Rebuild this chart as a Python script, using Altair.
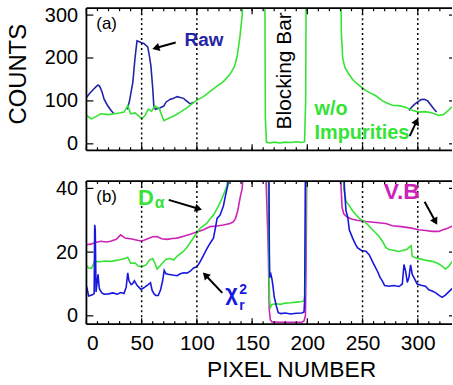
import altair as alt
import pandas as pd

# ---------------- data ----------------
# Panel (a): counts vs pixel number
A_GREEN_X = [0, 4.5, 9, 13, 20, 25, 30, 34, 37.5, 40, 44, 47, 50, 53, 56, 59, 62, 66, 70, 75, 80, 85, 90, 95,
             100, 106, 112, 118, 124, 130, 134, 136.5, 139, 141, 143, 161.5, 162, 163, 166, 170, 175, 180, 185,
             190, 195, 197.5, 198.5, 199, 230.3, 230.8, 232, 234, 237, 241, 245, 251.5, 256, 262, 268, 272,
             277, 283, 289, 295, 301, 307, 313, 319, 323, 327, 330, 334]
A_GREEN_Y = [66, 58, 64, 70, 68, 70, 72, 74, 89, 70, 72, 66, 58, 66, 81, 76, 88, 82, 54, 60, 66, 74, 82, 92,
             102, 110, 122, 134, 145, 162, 180, 204, 250, 300, 400, 400, 60, 4, 2, 4, 2, 4, 3,
             5, 3, 5, 100, 400, 400, 260, 200, 178, 165, 150, 140, 127, 120, 112, 100, 95,
             90, 89, 85, 78, 74, 75, 72, 66, 68, 76, 84, 90]

RAW1_X = [0, 3, 6, 9, 10.5, 12, 14, 16, 19, 22.5, 25]
RAW1_Y = [108, 118, 126, 134, 137, 134, 122, 104, 90, 77, 70]
RAW2_X = [37, 39, 42, 44, 45.8, 48, 49.4, 52, 55.5, 57, 58.4, 60, 61, 62.5, 64, 67, 70, 72, 76, 79, 82, 85,
          88, 90, 94, 97]
RAW2_Y = [80, 100, 143, 200, 240, 238, 236, 234, 226, 205, 181, 130, 89, 80, 82, 84, 88, 97, 104, 106, 110,
          108, 106, 101, 93, 97]
RAW3_X = [292, 294, 297, 300, 303, 306, 309, 312, 315, 317]
RAW3_Y = [78, 84, 92, 98, 103, 104, 100, 90, 80, 74]

# Panel (b)
VB_X = [0, 4, 8, 13, 18, 22, 27, 31, 35, 40, 45, 49, 52, 56, 60, 64, 68, 73, 78, 82, 88, 94, 100, 106, 112,
        118, 124, 130, 133, 135, 137, 139, 141, 143, 162, 164.7, 165.5, 166.5, 168, 175, 185, 195, 197,
        198.3, 199, 199.5, 230, 230.6, 231.5, 233, 236, 240, 245, 253, 260, 271, 277, 285, 293, 301, 307,
        313, 319, 323, 327, 330, 334]
VB_Y = [22.3, 22.5, 23, 23.4, 23.2, 23.4, 24, 25.4, 24.4, 24.2, 23.8, 23.5, 23.7, 24.3, 24.8, 24.9, 24.2, 24,
        24.3, 24.4, 25, 25.6, 26.3, 27, 28, 28.2, 28.5, 29, 29.5, 30.6, 33, 36.8, 40, 50, 50, 20, 2, -1.2,
        -1.9, -2, -2, -2, -1.6, 0, 20, 50, 50, 40, 34, 32, 31, 30.4, 30, 29.6, 29.4, 29, 28.3, 28, 27.6, 27,
        26.8, 26.5, 26.5, 27, 27.5, 28, 28.5]

DA_X = [0, 2, 4.5, 7.5, 12, 17, 22.5, 27, 30, 35, 37.4, 40, 44, 47, 50, 54, 57, 60, 62, 64, 67, 72, 76, 79,
        82, 85, 88, 91, 94, 97, 100, 103, 106, 109, 112, 115, 118, 121, 124, 127, 129, 164, 164.7, 165,
        165.8, 166.5, 168, 172, 176, 180, 185, 190, 195, 197, 198, 198.6, 199, 232, 233, 235, 238, 241,
        244, 248, 251.6, 255, 259, 262, 265, 268, 271, 274, 279, 283, 287, 290, 293, 294, 295, 298, 303,
        308, 313, 318, 322, 325, 328, 331, 334]
DA_Y = [15.8, 15, 14.9, 17.1, 17, 17.2, 17.1, 17.4, 17.6, 18, 18.4, 16.5, 16.6, 15.6, 15.4, 16, 17.5, 18,
        16.5, 14.7, 15.8, 17.8, 18, 17.5, 18.7, 19.5, 20.3, 21.5, 23, 24.5, 26, 27.5, 28.3, 29, 30.5, 31.6,
        33.5, 35.5, 37.9, 40.5, 45, 45, 45, 20, 5, 2.6, 3.6, 3.8, 3.6, 4, 4.1, 4.3, 4.5, 4.8, 7, 30, 50,
        50, 40, 36, 34.6, 33, 31.7, 30.3, 29.6, 28.5, 27, 26, 24.9, 23.4, 21.5, 20.8, 20.5, 20.2, 20.6,
        20.8, 21.8, 22, 18.7, 18.2, 17.8, 17.4, 17.1, 16.5, 15.6, 14.7, 15.5, 17, 18]

CHI_X = [0, 1, 2, 5, 7, 7.5, 8, 8.7, 9.5, 10.5, 11.5, 12, 14, 16, 20, 24, 28, 31, 34, 36, 37.4, 38.5, 40.5,
         42, 43.4, 46, 49.4, 52, 54, 56, 58, 59.5, 61.4, 63, 65, 67, 69, 70.4, 72, 75, 78, 82, 85, 88, 91,
         94, 97, 100, 103, 106, 109, 112, 115, 117, 118.3, 121, 124, 126, 128, 130, 165.2, 165.6, 166, 167,
         168, 169, 170, 171, 172, 173.7, 176, 180, 185, 190, 195, 197, 197.6, 198, 198.3, 233, 233.6, 235,
         236.6, 238, 241, 244, 245.6, 249, 253, 256, 259, 262, 263.5, 266, 268, 270, 274, 278, 283, 286,
         287.5, 289, 290.5, 292, 293.5, 295, 296.5, 299.5, 303, 307, 310, 313, 316, 319, 322, 325, 328,
         331, 334]
CHI_Y = [9.3, 8, 6.2, 6.5, 7, 28.6, 27, 7.5, 10, 13, 9, 8.3, 7.2, 6.8, 6.9, 7.2, 6.8, 7.3, 7, 9, 13.5, 11,
         9.8, 10.2, 11, 9.5, 8.3, 8.8, 9.3, 9.8, 10.4, 8, 6.8, 6.4, 6.4, 8, 11, 14.3, 13.2, 13, 12.8, 12.6,
         13.2, 13.5, 13.4, 14, 15, 15.4, 17, 19, 21, 22.8, 24.4, 28, 30.6, 31.6, 34.5, 37.9, 41, 50, 50, 20,
         12, 13, 11.5, 9, 6, 4.5, 3, 1, 0.7, 0.9, 0.6, 0.8, 0.9, 1.2, 5, 30, 50, 50, 40, 33, 31, 27, 24.4,
         22.2, 21.3, 20.5, 20.3, 19.2, 17, 15, 14, 12, 10.9, 9.5, 9.3, 9.5, 9.2, 10, 16.1, 14, 10.5, 12,
         16, 13, 12, 10, 9.6, 9.3, 8.2, 7.8, 7.3, 6.5, 5.8, 6.5, 7.5, 8.5, 9]

X_LABELS = [0, 50, 100, 150, 200, 250, 300]
GRID_X = [50, 100, 250, 300]
X_MINOR = list(range(0, 330, 10))
Y1_LABELS = [0, 100, 200, 300]
Y2_LABELS = [0, 20, 40]

# ---------------- styles ----------------
GREEN = "#35e335"
BLUE_TOP = "#2424a6"
BLUE = "#1717e0"
MAGENTA = "#cc22b8"
FONT = "Liberation Sans"
W, H1, H2 = 368, 143, 144
X_DOMAIN = [0, 331]
Y1_DOMAIN = [-15, 316]
Y2_DOMAIN = [-2.6, 42.3]

xs = alt.Scale(domain=X_DOMAIN, nice=False, zero=False)
y1s = alt.Scale(domain=Y1_DOMAIN, nice=False, zero=False)
y2s = alt.Scale(domain=Y2_DOMAIN, nice=False, zero=False)

yaxis_top = alt.Axis(values=Y1_LABELS, ticks=False, domain=False, grid=False, labelFont=FONT,
                     labelFontSize=20, labelColor="black", labelPadding=9, title="COUNTS",
                     titleFont=FONT, titleFontSize=24, titleFontWeight="normal", titleColor="black",
                     titleX=-68, titleY=66, titleBaseline="middle", titleAlign="center")
yaxis_bot = alt.Axis(values=Y2_LABELS, ticks=False, domain=False, grid=False, labelFont=FONT,
                     labelFontSize=20, labelColor="black", labelPadding=9, title=None)
xaxis_bot = alt.Axis(values=X_LABELS, ticks=False, domain=False, grid=False, labelFont=FONT,
                     labelFontSize=21, labelColor="black", labelPadding=9, title="PIXEL NUMBER",
                     titleFont=FONT, titleFontSize=23, titleFontWeight="normal", titleColor="black",
                     titlePadding=5, titleX=206, titleAlign="center")


class Panel:
    def __init__(self, ys, xaxis, yaxis, H):
        self.ys, self.xa, self.ya, self.H = ys, xaxis, yaxis, H

    def X(self, f):
        return alt.X(f, type="quantitative", scale=xs, axis=self.xa)

    def Y(self, f):
        return alt.Y(f, type="quantitative", scale=self.ys, axis=self.ya)

    def line(self, df, color, width=1.6):
        return alt.Chart(df).mark_line(color=color, strokeWidth=width, clip=True).encode(
            x=self.X("x"), y=self.Y("y"), order=alt.Order("i:Q"), detail="seg:N")

    def decorations(self, yticks):
        H = self.H
        layers = [alt.Chart(pd.DataFrame({"x": GRID_X})).mark_rule(
            color="black", strokeDash=[2, 3], strokeWidth=1.5).encode(x=self.X("x"))]
        for vals, ln in ((X_LABELS, 6), (X_MINOR, 3)):
            d = pd.DataFrame({"x": vals})
            layers.append(alt.Chart(d).mark_rule(color="black", strokeWidth=1.2).encode(
                x=self.X("x"), y=alt.value(H), y2=alt.value(H - ln)))
            layers.append(alt.Chart(d).mark_rule(color="black", strokeWidth=1.2).encode(
                x=self.X("x"), y=alt.value(0), y2=alt.value(ln)))
        yt = pd.DataFrame({"y": yticks})
        layers.append(alt.Chart(yt).mark_rule(color="black", strokeWidth=1.2).encode(
            y=self.Y("y"), x=alt.value(0), x2=alt.value(7)))
        layers.append(alt.Chart(yt).mark_rule(color="black", strokeWidth=1.2).encode(
            y=self.Y("y"), x=alt.value(W - 3), x2=alt.value(W)))
        # frame: left, top, bottom (right edge lies beyond the crop in the reference)
        fr = dict(color="black", strokeWidth=1.8)
        layers.append(alt.Chart(pd.DataFrame({"k": [0]})).mark_rule(**fr).encode(
            x=alt.value(0), y=alt.value(0), y2=alt.value(H)))
        layers.append(alt.Chart(pd.DataFrame({"k": [0]})).mark_rule(**fr).encode(
            x=alt.value(0), x2=alt.value(W), y=alt.value(0)))
        layers.append(alt.Chart(pd.DataFrame({"k": [0]})).mark_rule(**fr).encode(
            x=alt.value(0), x2=alt.value(W), y=alt.value(H)))
        return layers

    def label(self, txt, x, y, size, color="black", weight="bold", align="left",
              baseline="alphabetic", angle=0):
        d = pd.DataFrame({"x": [x], "y": [y], "t": [txt]})
        kw = dict(align=align, baseline=baseline, font=FONT, fontSize=size, fontWeight=weight, color=color)
        if angle:
            kw["angle"] = angle
        return alt.Chart(d).mark_text(**kw).encode(x=self.X("x"), y=self.Y("y"), text="t:N")

    def arrow(self, x1, y1, x2, y2, ang):
        d = pd.DataFrame({"x": [x1], "y": [y1], "x2": [x2], "y2": [y2], "a": [ang]})
        r = alt.Chart(d).mark_rule(color="black", strokeWidth=2).encode(
            x=self.X("x"), y=self.Y("y"), x2="x2:Q", y2="y2:Q")
        h = alt.Chart(d).mark_point(shape="triangle-up", filled=True, color="black", size=70,
                                    opacity=1).encode(
            x=self.X("x2"), y=self.Y("y2"), angle=alt.Angle("a:Q", scale=None))
        return [r, h]


def df_xy(xv, yv, seg="s"):
    return pd.DataFrame({"x": xv, "y": yv, "i": list(range(len(xv))), "seg": seg})


raw = pd.concat([df_xy(RAW1_X, RAW1_Y, "a"), df_xy(RAW2_X, RAW2_Y, "b"), df_xy(RAW3_X, RAW3_Y, "c")])

P1 = Panel(y1s, None, yaxis_top, H1)
top_layers = [
    P1.line(raw, BLUE_TOP),
    P1.line(df_xy(A_GREEN_X, A_GREEN_Y), GREEN),
] + P1.decorations(Y1_LABELS) + [
    P1.label("(a)", 9, 278, 17, weight="normal", baseline="middle"),
    P1.label("Raw", 106.4, 227.5, 19, color=BLUE_TOP, align="center"),
    P1.label("Blocking Bar", 185.6, 170, 21, weight="normal", align="center", angle=270),
    P1.label("w/o", 206.5, 66.7, 20, color=GREEN),
    P1.label("Impurities", 206.5, 11.1, 20, color=GREEN),
] + P1.arrow(80.8, 236, 62.8, 223.4, 254) + P1.arrow(292.7, 18, 299, 52.8, 25)

P2 = Panel(y2s, xaxis_bot, yaxis_bot, H2)
bot_layers = [
    P2.line(df_xy(VB_X, VB_Y), MAGENTA),
    P2.line(df_xy(DA_X, DA_Y), GREEN),
    P2.line(df_xy(CHI_X, CHI_Y), BLUE),
] + P2.decorations(Y2_LABELS) + [
    P2.label("(b)", 9, 37.4, 17, weight="normal", baseline="middle"),
    P2.label("D", 46.7, 34.9, 22, color=GREEN),
    P2.label("α", 61.8, 33.96, 16, color=GREEN),
    P2.label("χ", 125.7, 5.0, 22, color=BLUE),
    P2.label("2", 138.3, 6.9, 14, color=BLUE),
    P2.label("r", 138.3, 1.9, 14, color=BLUE),
    P2.label("V.B", 269.3, 36.8, 23, color=MAGENTA),
] + P2.arrow(74.5, 36.4, 101.5, 33.6, 106.7) + P2.arrow(123, 7.2, 107.7, 12.8, 316.6) + \
    P2.arrow(306.2, 35.8, 316, 29.6, 151.2)

top = alt.layer(*top_layers).properties(width=W, height=H1)
bot = alt.layer(*bot_layers).properties(width=W, height=H2)

chart = alt.vconcat(top, bot, spacing=24).properties(
    padding={"left": 7, "top": 3, "right": 0, "bottom": 0}, background="white"
).configure_view(stroke=None)

chart.save("out.html", embed_options={"renderer": "svg", "actions": False})
